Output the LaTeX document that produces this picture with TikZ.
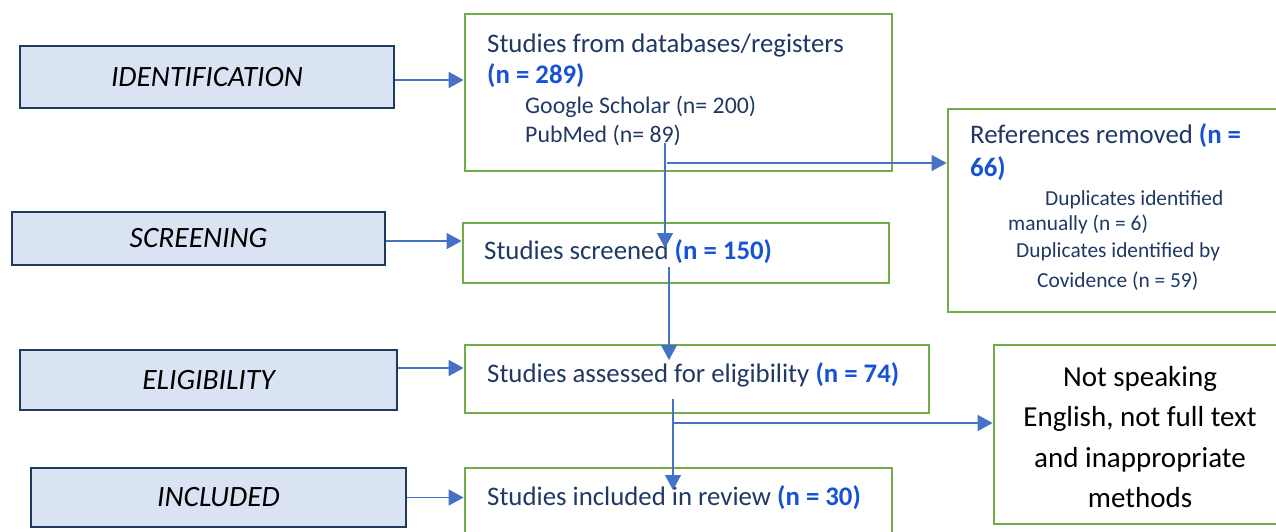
\documentclass[tikz,border=0pt]{standalone}
\usepackage{fontspec}
\setmainfont{Carlito}
\usetikzlibrary{arrows.meta}

\definecolor{stagefill}{HTML}{DAE3F3}
\definecolor{stageline}{HTML}{223A5E}
\definecolor{boxgreen}{HTML}{70AD47}
\definecolor{flowblue}{HTML}{4472C4}
\definecolor{navytext}{HTML}{1F3864}
\definecolor{countblue}{HTML}{1652D6}
\newcommand{\cnt}[1]{{\color{countblue}\bfseries #1}}
\newcommand{\fs}[1]{\fontsize{#1}{1.2\dimexpr #1pt\relax}\selectfont}

\begin{document}
\begin{tikzpicture}[x=1pt,y=-1pt,
    stage/.style={draw=stageline,fill=stagefill,line width=2.6pt,inner sep=0pt,
      font=\fs{29.5}\itshape},
    flow/.style={draw=boxgreen,line width=2.8pt,inner sep=0pt},
    txt/.style={anchor=base west,inner sep=0pt,text=navytext,font=\fs{26.8}},
    small/.style={txt,font=\fs{21.4}},
    arr/.style={flowblue,line width=1.4pt,-{Triangle[length=15pt,width=16pt]}}]
    \useasboundingbox (0,0) rectangle (1276,531);
    \clip (0,0) rectangle (1276,531);

    % stages on the left
    \node[stage,minimum width=374pt,minimum height=62pt] (ident) at (207,77) {IDENTIFICATION};
    \node[stage,minimum width=373pt,minimum height=53pt] (scr) at (198.5,238.5) {SCREENING};
    \node[stage,minimum width=377pt,minimum height=60pt] (elig) at (208.5,380) {ELIGIBILITY};
    \node[stage,minimum width=375pt,minimum height=59pt] (incl) at (218.5,497.5) {INCLUDED};

    % green boxes
    \node[flow,minimum width=427pt,minimum height=157pt] (db) at (678.5,92.5) {};
    \node[flow,minimum width=340pt,minimum height=203pt] (refs) at (1118,210.5) {};
    \node[flow,minimum width=426pt,minimum height=60pt] (scrd) at (676,253) {};
    \node[flow,minimum width=464pt,minimum height=68pt] (eligd) at (697,379) {};
    \node[flow,minimum width=427pt,minimum height=80pt] (incld) at (678.5,508) {};
    \node[flow,minimum width=296pt,minimum height=179pt] (excl) at (1142,434.5) {};

    \node[txt] (dbhead) at (487,52) {Studies from databases/registers};
    \node[txt] (dbcount) at (487,83) {\cnt{(n = 289)}};
    \node[txt,font=\fs{23.8}] (dbgs) at (525,113) {Google Scholar (n= 200)};
    \node[txt,font=\fs{23.8}] (dbpm) at (525,142) {PubMed (n= 89)};

    \node[txt] (refhead) at (970,143) {References removed \cnt{(n =}};
    \node[txt] (refcount) at (970,176) {\cnt{66)}};
    \node[small] (refa) at (1045,205) {Duplicates identified};
    \node[small] (refb) at (1008,230) {manually (n = 6)};
    \node[small] (refc) at (1016,257) {Duplicates identified by};
    \node[small] (refd) at (1037,287) {Covidence (n = 59)};

    \node[txt] (scrdtxt) at (484,259) {Studies screened \cnt{(n = 150)}};
    \node[txt] (eligdtxt) at (487,382) {Studies assessed for eligibility \cnt{(n = 74)}};
    \node[txt] (incldtxt) at (487,505) {Studies included in review \cnt{(n = 30)}};

    \node[align=center,inner sep=0pt,font=\fontsize{29}{40.5}\selectfont] (excltxt)
      at (1140,437) {Not speaking\\English, not full text\\and inappropriate\\methods};

    % stage arrows
    \draw[arr] ([yshift=-3pt]ident.east) -- ([yshift=-3pt]ident.east -| db.west);
    \draw[arr] ([yshift=-2.5pt]scr.east) -- ([yshift=-2.5pt]scr.east -| scrd.west);
    \draw[arr] ([yshift=12pt]elig.east) -- ([yshift=12pt]elig.east -| eligd.west);
    \draw[arr] (incl.east) -- (incl.east -| incld.west);

    % flow between the green boxes
    \coordinate (s1) at (665,143);
    \coordinate (t1) at (665,248);
    \coordinate (r1) at (667,163);
    \coordinate (s2) at (669,267);
    \coordinate (t2) at (669,360);
    \coordinate (s3) at (673,399);
    \coordinate (t3) at (673,490);
    \coordinate (r3) at (673,423);
    \draw[arr] (s1) -- (t1);
    \draw[arr] (r1) -- (r1 -| refs.west);
    \draw[arr] (s2) -- (t2);
    \draw[arr] (s3) -- (t3);
    \draw[arr] (r3) -- (r3 -| excl.west);
\end{tikzpicture}
\end{document}
